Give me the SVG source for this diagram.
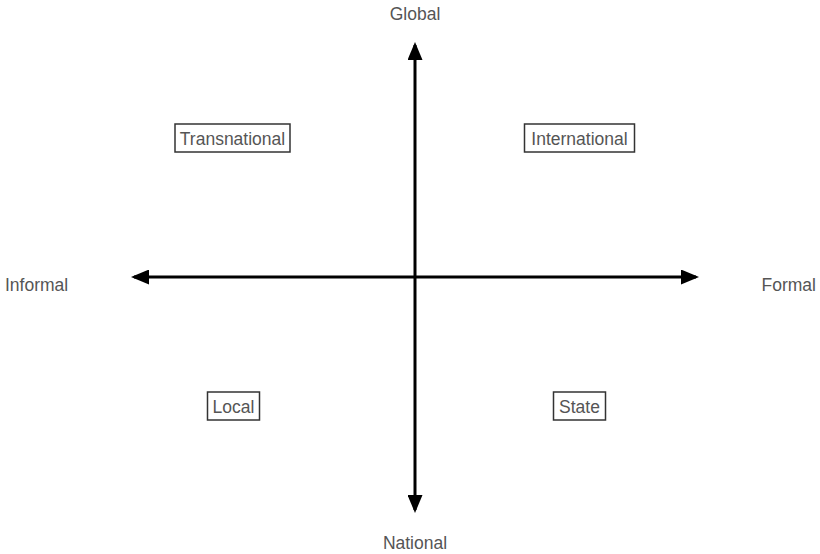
<svg xmlns="http://www.w3.org/2000/svg" width="820" height="554" viewBox="0 0 820 554">
<style>
.lbl{font-family:"Liberation Sans",Arial,sans-serif;font-size:17.5px;fill:#555}
.box{fill:#fff;stroke:#333;stroke-width:1.5}
.axis{stroke:#000;stroke-width:3;fill:none}
</style>
<defs>
<marker id="ah" markerWidth="6" markerHeight="5" refX="5" refY="2.5" orient="auto" markerUnits="strokeWidth">
<path d="M0,0 L6,2.5 L0,5 Z" fill="#000"/>
</marker>
</defs>
<rect width="820" height="554" fill="#fff"/>
<g id="connectors">
<line class="axis" x1="415" y1="277" x2="415" y2="45" marker-end="url(#ah)"/>
<line class="axis" x1="415" y1="277" x2="415" y2="510" marker-end="url(#ah)"/>
<line class="axis" x1="415" y1="277" x2="134" y2="277" marker-end="url(#ah)"/>
<line class="axis" x1="415" y1="277" x2="696" y2="277" marker-end="url(#ah)"/>
</g>
<g id="global"><text class="lbl" x="415" y="20" text-anchor="middle">Global</text></g>
<g id="national"><text class="lbl" x="415" y="549" text-anchor="middle">National</text></g>
<g id="informal"><text class="lbl" x="5" y="291">Informal</text></g>
<g id="formal"><text class="lbl" x="816" y="291" text-anchor="end">Formal</text></g>
<g id="transnational"><rect class="box" x="175" y="124" width="115" height="28"/><text class="lbl" x="232.5" y="144.5" text-anchor="middle">Transnational</text></g>
<g id="international"><rect class="box" x="524.5" y="124" width="110" height="28"/><text class="lbl" x="579.5" y="144.5" text-anchor="middle">International</text></g>
<g id="local"><rect class="box" x="207.5" y="392" width="52" height="28"/><text class="lbl" x="233.5" y="412.5" text-anchor="middle">Local</text></g>
<g id="state"><rect class="box" x="553.5" y="392" width="52" height="28"/><text class="lbl" x="579.5" y="412.5" text-anchor="middle">State</text></g>
</svg>
